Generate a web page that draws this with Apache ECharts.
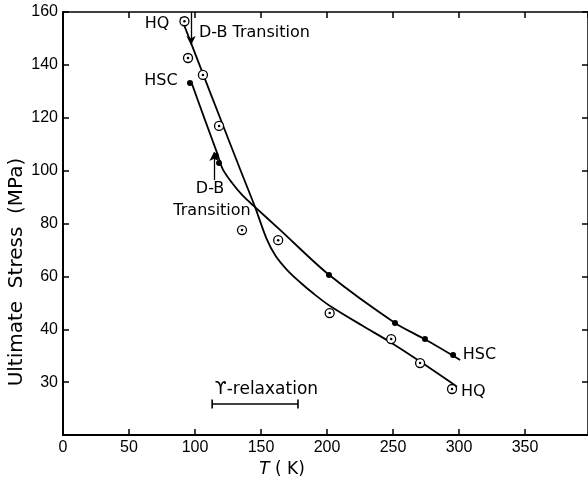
<!DOCTYPE html>
<html>
<head>
<meta charset="utf-8">
<script src="https://cdn.jsdelivr.net/npm/echarts@6/dist/echarts.min.js"></script>
<style>
  html, body { margin: 0; padding: 0; background: #fff; }
  #chart { width: 588px; height: 480px; }
</style>
</head>
<body>
<div id="chart"></div>
<script>
// Ultimate stress vs temperature for HQ and HSC specimens

// Measured points: HQ (hollow, dotted circles)
const hqT = [92, 94.7, 106, 118.2, 135.6, 163, 202, 248.6, 270.5, 294.7];
const hqS = [156.5, 142.6, 136.2, 116.9, 77.5, 73.7, 46.1, 36.3, 27.2, 17.4];

// Measured points: HSC (filled circles)
const hscT = [96.2, 115.9, 118.2, 201.5, 251.5, 274.2, 295.5];
const hscS = [133.1, 105.5, 102.9, 60.5, 42.4, 36.3, 30.3];

// Fitted curves
const hqCurveT = [89.4, 106.1, 120.5, 134.1, 145.5, 154.0, 161.0, 170.0, 180.0, 190.0, 202.3, 227.3, 248.0, 270.5, 298.5];
const hqCurveS = [158.1, 136.5, 118.0, 100.6, 86.2, 74.5, 67.8, 62.3, 57.6, 53.4, 48.8, 41.2, 35.1, 27.8, 18.3];
const hscCurveT = [97.7, 107.6, 116.7, 121.0, 128.0, 136.0, 145.5, 164.4, 201.5, 251.5, 274.2, 300.8];
const hscCurveS = [132.8, 119.1, 106.7, 100.6, 95.4, 90.6, 86.2, 77.6, 60.6, 42.4, 36.2, 28.4];

// Axis ticks
const xTicks = [0, 50, 100, 150, 200, 250, 300, 350];
const yTickText = ['', '30', '40', '60', '80', '100', '120', '140', '160'];

// Text annotations: [T, stress, text, align]
const notes = [
  [71.2, 155.4, 'HQ', 'center'],
  [74.2, 133.9, 'HSC', 'center'],
  [103, 152, 'D-B Transition', 'left'],
  [111.4, 93.0, 'D-B', 'center'],
  [112.9, 84.7, 'Transition', 'center'],
  [302.8, 30.3, 'HSC', 'left'],
  [301.5, 16.3, 'HQ', 'left']
];

// Arrows marking the ductile-brittle transitions: [T, from, to]
const dbArrows = [
  [97, 160, 147.5],
  [114.4, 96.4, 107]
];

// γ-relaxation range
const gammaRange = [113, 178];
const gammaLevel = 11.7;
const gammaText = [115, 17.3, 'ϒ-relaxation'];

const zip = (a, b) => a.map((v, i) => [v, b[i]]);
const INK = '#000';
const FONT = 'DejaVu Sans';
const PX_PER_K = 1.32;
const X_MAX = Math.round((588 - 63) / PX_PER_K * 10) / 10;

const chart = echarts.init(document.getElementById('chart'), null, { renderer: 'canvas' });

chart.setOption({
  animation: false,
  backgroundColor: '#fff',
  grid: { left: 63, top: 12, right: 0, bottom: 45, containLabel: false },
  xAxis: [
    {
      type: 'value', min: 0, max: X_MAX, interval: 50, position: 'bottom',
      axisLine: { onZero: false, lineStyle: { color: INK, width: 2 } },
      axisTick: { inside: true, length: 6, lineStyle: { color: INK, width: 1.5 } },
      axisLabel: {
        color: INK, fontFamily: 'Liberation Sans', fontSize: 16, margin: 5,
        showMaxLabel: false,
        formatter: v => (xTicks.indexOf(v) >= 0 ? String(v) : '')
      },
      splitLine: { show: false }
    },
    {
      type: 'value', min: 0, max: X_MAX, interval: 50, position: 'top',
      axisLine: { onZero: false, lineStyle: { color: INK, width: 1.5 } },
      axisTick: { inside: true, length: 6, lineStyle: { color: INK, width: 1.5 } },
      axisLabel: { show: false },
      splitLine: { show: false }
    }
  ],
  yAxis: [
    {
      type: 'value', min: 0, max: 160, interval: 20, position: 'left',
      axisLine: { onZero: false, lineStyle: { color: INK, width: 2 } },
      axisTick: { inside: true, length: 6, lineStyle: { color: INK, width: 1.5 } },
      axisLabel: {
        color: INK, fontFamily: 'Liberation Sans', fontSize: 16, margin: 5,
        formatter: v => yTickText[Math.round(v / 20)] || ''
      },
      splitLine: { show: false }
    },
    {
      type: 'value', min: 0, max: 160, interval: 20, position: 'right',
      axisLine: { onZero: false, lineStyle: { color: INK, width: 1.5 } },
      axisTick: { inside: true, length: 6, lineStyle: { color: INK, width: 1.5 } },
      axisLabel: { show: false },
      splitLine: { show: false }
    }
  ],
  graphic: [
    {
      type: 'text', x: 17, y: 272, rotation: Math.PI / 2,
      style: {
        text: 'Ultimate  Stress  (MPa)', fill: INK,
        font: '20px "DejaVu Sans"', textAlign: 'center', textVerticalAlign: 'middle'
      }
    },
    {
      type: 'text', x: 282, y: 470,
      style: {
        text: '{i|T} ( K)', fill: INK, textAlign: 'center', textVerticalAlign: 'middle',
        font: '17px "DejaVu Sans"',
        rich: { i: { fontStyle: 'italic', fontFamily: FONT, fontSize: 17 } }
      }
    }
  ],
  series: [
    {
      name: 'HQ fit', type: 'line', data: zip(hqCurveT, hqCurveS),
      smooth: 0.3, showSymbol: false, symbol: 'none', silent: true,
      lineStyle: { color: INK, width: 1.8 }
    },
    {
      name: 'HSC fit', type: 'line', data: zip(hscCurveT, hscCurveS),
      smooth: 0.3, showSymbol: false, symbol: 'none', silent: true,
      lineStyle: { color: INK, width: 1.8 }
    },
    {
      name: 'HQ', type: 'scatter', data: zip(hqT, hqS), symbol: 'circle', symbolSize: 9, z: 5,
      itemStyle: { color: '#fff', borderColor: INK, borderWidth: 1.3, opacity: 1 }
    },
    {
      name: 'HQ centre', type: 'scatter', data: zip(hqT, hqS), symbol: 'circle', symbolSize: 2.5, z: 6,
      itemStyle: { color: INK, opacity: 1 }
    },
    {
      name: 'HSC', type: 'scatter', data: zip(hscT, hscS), symbol: 'circle', symbolSize: 6, z: 6,
      itemStyle: { color: INK, opacity: 1 }
    },
    {
      name: 'gamma', type: 'line', data: gammaRange.map(t => [t, gammaLevel]),
      symbol: 'rect', symbolSize: [1.6, 9], showSymbol: true, silent: true,
      itemStyle: { color: INK }, lineStyle: { color: INK, width: 1.5 }
    },
    {
      name: 'gamma text', type: 'scatter', symbolSize: 0, silent: true, z: 7,
      itemStyle: { opacity: 1 },
      data: [{ value: [gammaText[0], gammaText[1]], name: gammaText[2] }],
      label: {
        show: true, position: [0, 0], align: 'left', verticalAlign: 'middle',
        formatter: p => p.name, color: INK, fontFamily: FONT, fontSize: 17
      }
    },
    {
      name: 'notes', type: 'scatter', symbolSize: 0, silent: true, z: 7,
      itemStyle: { opacity: 1 },
      data: notes.map(n => ({
        value: [n[0], n[1]], name: n[2],
        label: { align: n[3] }
      })),
      label: {
        show: true, position: [0, 0], verticalAlign: 'middle',
        formatter: p => p.name, color: INK, fontFamily: FONT, fontSize: 16
      },
      markLine: {
        silent: true, symbol: ['none', 'arrow'], symbolSize: [7, 9],
        label: { show: false },
        lineStyle: { color: INK, width: 1.3, type: 'solid' },
        data: dbArrows.map(a => [{ coord: [a[0], a[1]] }, { coord: [a[0], a[2]] }])
      }
    }
  ]
});
</script>
</body>
</html>
